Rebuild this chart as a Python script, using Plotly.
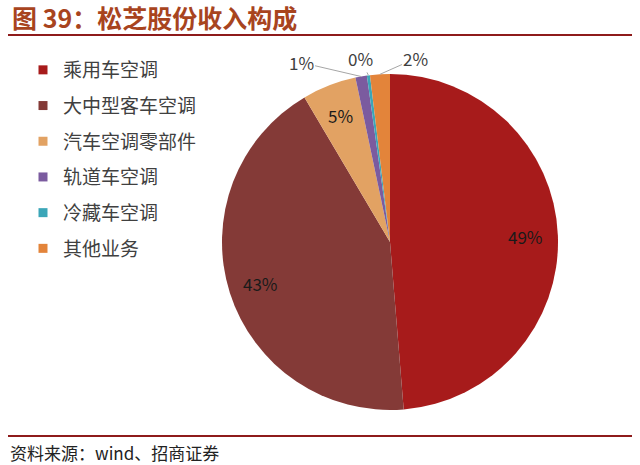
import math
import plotly.graph_objects as go

# revenue split of Songz (share of total, %)
categories = ["乘用车空调", "大中型客车空调", "汽车空调零部件", "轨道车空调", "冷藏车空调", "其他业务"]
shares = [48.7, 42.8, 5.2, 1.1, 0.3, 1.9]
colors = ["#A71B1B", "#843A37", "#E2A263", "#7B5B9F", "#3BA6B8", "#E3843A"]
pct_labels = ["49%", "43%", "5%", "1%", "0%", "2%"]

title_text = "图 39：松芝股份收入构成"
source_text = "资料来源：wind、招商证券"

FONT = "Noto Sans CJK SC"
W, H = 640, 465


def px(x):
    return x / W


def py(y):
    return 1 - y / H


# pie geometry in screen pixels
CX, CY, R = 390, 242, 168

fig = go.Figure()

fig.add_trace(go.Pie(
    labels=categories,
    values=shares,
    sort=False,
    direction="clockwise",
    rotation=0,
    marker=dict(colors=colors),
    textinfo="none",
    showlegend=False,
    domain=dict(x=[px(CX - R), px(CX + R)], y=[py(CY + R), py(CY - R)]),
))

# legend entries drawn as dummy traces so the row spacing can be opened up
for name, c in zip(categories, colors):
    fig.add_trace(go.Scatter(
        x=[None], y=[None], mode="markers", name=name,
        legendgroup=name,
        marker=dict(symbol="square", size=9, color=c),
    ))

# percentage labels: big slices inside, the small ones outside with leaders
total = sum(shares)
offsets = {3: (-60, -14), 4: (-8, -17), 5: (36, -16)}
cum = 0
for i, (s, lab) in enumerate(zip(shares, pct_labels)):
    mid = (cum + s / 2) / total * 2 * math.pi
    cum += s
    dx, dy = math.sin(mid), -math.cos(mid)
    if i in offsets:
        ax, ay = offsets[i]
        fig.add_annotation(
            text=lab, x=px(CX + R * dx), y=py(CY + R * dy),
            xref="paper", yref="paper", ax=ax, ay=ay,
            showarrow=True, arrowhead=0, arrowwidth=1, arrowcolor="#A6A6A6",
            font=dict(family=FONT, size=17, color="#404040"),
        )
    else:
        r = 0.81 * R
        fig.add_annotation(
            text=lab, x=px(CX + r * dx), y=py(CY + r * dy),
            xref="paper", yref="paper", showarrow=False,
            xanchor="center", yanchor="middle",
            font=dict(family=FONT, size=17, color="#1a1a1a"),
        )

fig.add_annotation(
    text="<b>" + title_text + "</b>", x=px(10), y=py(17), xref="paper", yref="paper",
    showarrow=False, xanchor="left", yanchor="middle",
    font=dict(family=FONT, size=25, color="#A8441E"),
)
fig.add_annotation(
    text=source_text, x=px(8), y=py(452), xref="paper", yref="paper",
    showarrow=False, xanchor="left", yanchor="middle",
    font=dict(family=FONT, size=17, color="#222222"),
)

for yline in (35, 436):
    fig.add_shape(type="line", xref="paper", yref="paper",
                  x0=px(8), x1=px(632), y0=py(yline), y1=py(yline),
                  line=dict(color="#8E1B1B", width=2))

fig.update_layout(
    width=W, height=H,
    margin=dict(l=0, r=0, t=0, b=0),
    paper_bgcolor="white",
    plot_bgcolor="white",
    font=dict(family=FONT),
    xaxis=dict(visible=False),
    yaxis=dict(visible=False),
    legend=dict(
        x=px(23), y=py(51), xanchor="left", yanchor="top",
        font=dict(family=FONT, size=19, color="#404040"),
        tracegroupgap=8,
        itemwidth=30,
        bgcolor="rgba(0,0,0,0)",
    ),
)

# drop the browser's default 8px body margin so the figure fills the window
fig.write_html("out.html", config={"displayModeBar": False},
               post_script="document.body.style.margin='0';")
